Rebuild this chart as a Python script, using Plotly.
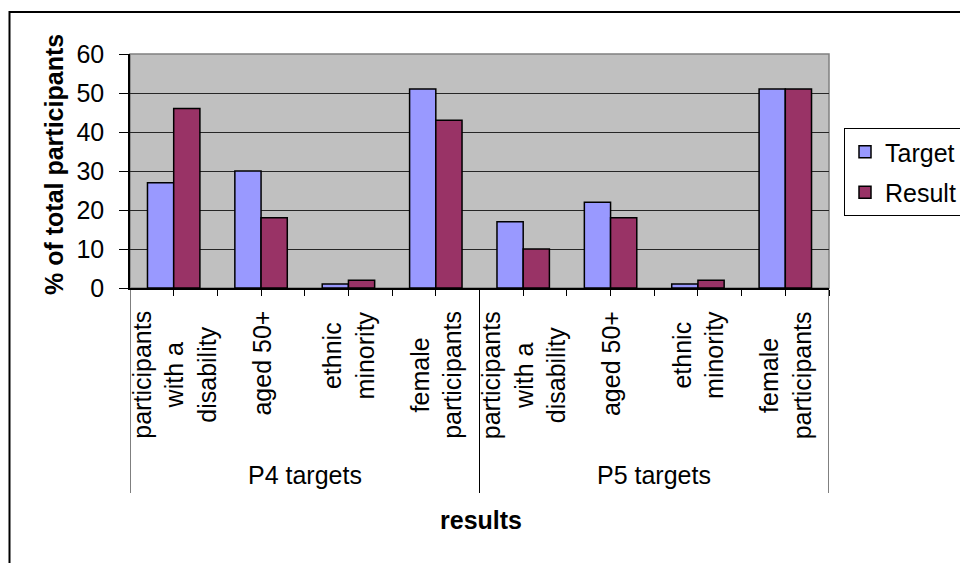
import plotly.graph_objects as go

# Data
group_names = ["P4 targets", "P5 targets"]
categories = [
    "participants<br>with a<br>disability", "aged 50+", "ethnic<br>minority", "female<br>participants",
    "participants<br>with a<br>disability", "aged 50+", "ethnic<br>minority", "female<br>participants",
]
category_group = [0, 0, 0, 0, 1, 1, 1, 1]
target = [27, 30, 1, 51, 17, 22, 1, 51]
result = [46, 18, 2, 43, 10, 18, 2, 51]
y_ticks = [0, 10, 20, 30, 40, 50, 60]

W, H = 960, 563
L, R, T, B = 130, 829, 54, 288  # plot area in pixels
PW, PH = R - L, B - T


def px(x):
    return (x - L) / PW


def py(y):
    return (B - y) / PH


FONT = "Liberation Sans, Arial, sans-serif"
FS = 25

xpos = list(range(len(categories)))

fig = go.Figure()
fig.add_trace(go.Bar(
    x=xpos, y=target, name="Target", legendgroup="t",
    marker=dict(color="#9999FF", line=dict(color="black", width=1.5)),
))
fig.add_trace(go.Bar(
    x=xpos, y=result, name="Result", legendgroup="r",
    marker=dict(color="#993366", line=dict(color="black", width=1.5)),
))

# tick marks at every category centre and boundary
tick_positions = sorted(set([i for i in xpos] + [i + 0.5 for i in xpos]))

annotations = []
# category labels (rotated)
for i, lab in enumerate(categories):
    annotations.append(dict(
        x=i, xref="x", y=py(309), yref="paper", text=lab, textangle=-90,
        xanchor="center", yanchor="top", align="center", showarrow=False,
        font=dict(family=FONT, size=FS, color="black"),
    ))

# group labels and separators
shapes = []
for g, name in enumerate(group_names):
    members = [i for i, cg in enumerate(category_group) if cg == g]
    centre = (members[0] + members[-1]) / 2
    annotations.append(dict(
        x=centre, xref="x", y=py(475), yref="paper", text=name,
        xanchor="center", yanchor="middle", showarrow=False,
        font=dict(family=FONT, size=FS, color="black"),
    ))
    for edge in (members[0] - 0.5, members[-1] + 0.5):
        shapes.append(dict(
            type="line", xref="x", yref="paper", x0=edge, x1=edge,
            y0=0, y1=py(493), line=dict(color="black", width=1),
        ))

# axis titles
annotations.append(dict(
    x=px(481), y=py(520), xref="paper", yref="paper", text="<b>results</b>",
    showarrow=False, xanchor="center", yanchor="middle",
    font=dict(family=FONT, size=FS, color="black"),
))
annotations.append(dict(
    x=px(54), y=py(165), xref="paper", yref="paper",
    text="<b>% of total participants</b>", textangle=-90,
    showarrow=False, xanchor="center", yanchor="middle",
    font=dict(family=FONT, size=FS, color="black"),
))

# plot-area frame (top and right edges grey)
shapes.append(dict(
    type="rect", xref="paper", yref="paper", x0=0, x1=1, y0=0, y1=1,
    line=dict(color="#808080", width=1.5), layer="below",
))
# outer chart border
shapes.append(dict(
    type="rect", xref="paper", yref="paper",
    x0=px(9.5), x1=px(990), y0=py(12), y1=py(620),
    line=dict(color="black", width=2),
))

fig.update_layout(
    width=W, height=H,
    margin=dict(l=L, r=W - R, t=T, b=H - B, pad=0, autoexpand=False),
    paper_bgcolor="white",
    plot_bgcolor="#C0C0C0",
    barmode="group", bargap=0.4, bargroupgap=0,
    font=dict(family=FONT, size=FS, color="black"),
    showlegend=True,
    legend=dict(
        x=px(844), y=py(128), xanchor="left", yanchor="top",
        bordercolor="black", borderwidth=1, bgcolor="white",
        font=dict(family=FONT, size=FS, color="black"),
        tracegroupgap=5, itemwidth=30,
    ),
    xaxis=dict(
        range=[-0.5, len(categories) - 0.5],
        tickmode="array", tickvals=tick_positions, showticklabels=False,
        ticks="outside", ticklen=6, tickcolor="black", tickwidth=1,
        showline=True, linecolor="black", linewidth=1.5,
        showgrid=False, zeroline=False,
    ),
    xaxis2=dict(
        range=[-0.5, len(categories) - 0.5], overlaying="x", anchor="y",
        side="bottom", tickmode="array", tickvals=tick_positions,
        showticklabels=False, ticks="inside", ticklen=6, tickcolor="black",
        tickwidth=1, showline=False, showgrid=False, zeroline=False,
    ),
    yaxis=dict(
        range=[0, 60], tickmode="array", tickvals=y_ticks,
        ticktext=[str(v) for v in y_ticks],
        ticks="outside", ticklen=9, tickcolor="black", tickwidth=1,
        ticklabelstandoff=10,
        showline=True, linecolor="black", linewidth=1.5,
        showgrid=True, gridcolor="#262626", gridwidth=1,
        zeroline=False,
        tickfont=dict(family=FONT, size=FS, color="black"),
    ),
    annotations=annotations,
    shapes=shapes,
)

fig.write_html("out.html")
